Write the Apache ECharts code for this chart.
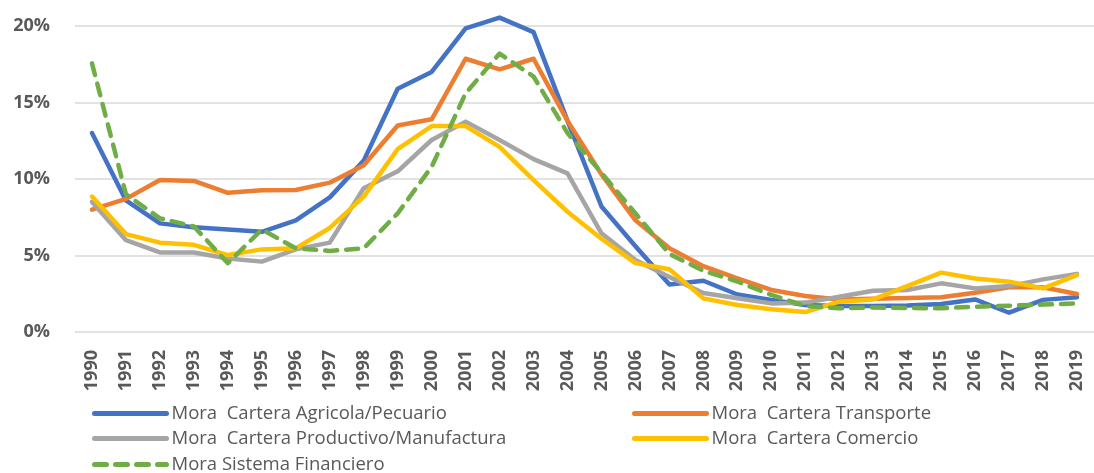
<!DOCTYPE html>
<html>
<head>
<meta charset="utf-8">
<script src="https://cdn.jsdelivr.net/npm/echarts@6/dist/echarts.min.js"></script>
<style>
  html, body { margin: 0; padding: 0; background: #fff; }
  #chart { width: 1094px; height: 473px; }
</style>
</head>
<body>
<div id="chart"></div>
<script>
var years = ['1990','1991','1992','1993','1994','1995','1996','1997','1998','1999',
             '2000','2001','2002','2003','2004','2005','2006','2007','2008','2009',
             '2010','2011','2012','2013','2014','2015','2016','2017','2018','2019'];

// Mora (%) por sector
var agricola = [13.0, 8.6, 7.1, 6.85, 6.7, 6.55, 7.3, 8.8, 11.2, 15.9,
                17.0, 19.85, 20.55, 19.6, 13.8, 8.2, 5.6, 3.1, 3.35, 2.45,
                2.1, 1.76, 1.7, 1.7, 1.74, 1.83, 2.13, 1.26, 2.1, 2.27];
var transporte = [8.0, 8.7, 9.93, 9.87, 9.1, 9.26, 9.28, 9.76, 10.9, 13.5,
                  13.9, 17.86, 17.17, 17.86, 13.8, 10.3, 7.3, 5.47, 4.3, 3.5,
                  2.75, 2.35, 2.13, 2.18, 2.22, 2.27, 2.57, 2.92, 2.92, 2.48];
var productivo = [8.5, 6.0, 5.2, 5.2, 4.8, 4.6, 5.4, 5.84, 9.4, 10.5,
                  12.55, 13.75, 12.55, 11.3, 10.37, 6.45, 4.7, 3.6, 2.55, 2.2,
                  1.87, 1.92, 2.3, 2.7, 2.75, 3.18, 2.85, 3.0, 3.44, 3.8];
var comercio = [8.85, 6.4, 5.84, 5.7, 5.03, 5.4, 5.47, 6.8, 8.85, 11.95,
                13.46, 13.46, 12.1, 9.93, 7.86, 6.1, 4.5, 4.1, 2.2, 1.76,
                1.48, 1.3, 1.98, 2.13, 3.0, 3.88, 3.5, 3.29, 2.85, 3.72];
var sistema = [17.56, 9.0, 7.43, 6.9, 4.5, 6.7, 5.47, 5.3, 5.47, 7.75,
               10.8, 15.6, 18.2, 16.7, 13.0, 10.4, 7.75, 5.1, 4.0, 3.3,
               2.42, 1.7, 1.55, 1.6, 1.57, 1.55, 1.65, 1.72, 1.79, 1.87];

var yTicks = [0, 5, 10, 15, 20];

var chart = echarts.init(document.getElementById('chart'));

function line(name, data, color, dashed) {
    return {
        name: name,
        type: 'line',
        data: data,
        symbol: 'none',
        clip: false,
        lineStyle: {
            color: color,
            width: 4.5,
            type: dashed ? [12, 9] : 'solid',
            cap: 'round',
            join: 'round'
        },
        itemStyle: { color: color }
    };
}

// one legend per entry, placed like the Excel legend (2 columns, 3 rows)
function legendAt(name, left, top) {
    return {
        left: left,
        top: top,
        padding: 0,
        itemWidth: 72,
        itemHeight: 14,
        itemStyle: { opacity: 0 },
        lineStyle: { width: 5 },
        textStyle: { fontFamily: 'Open Sans', fontSize: 18.5, color: '#595959' },
        data: [name]
    };
}

var option = {
    animation: false,
    grid: { left: 75, right: 0, top: 26, bottom: 141 },
    legend: [
        legendAt('Mora  Cartera Agricola/Pecuario', 92, 404),
        legendAt('Mora  Cartera Transporte', 632, 404),
        legendAt('Mora  Cartera Productivo/Manufactura', 92, 429),
        legendAt('Mora  Cartera Comercio', 632, 429),
        legendAt('Mora Sistema Financiero', 92, 455)
    ],
    xAxis: {
        type: 'category',
        data: years,
        boundaryGap: true,
        axisLine: { show: false },
        axisTick: { show: false },
        axisLabel: {
            rotate: 90,
            interval: 0,
            margin: 18,
            fontFamily: 'Open Sans',
            fontWeight: 'bold',
            fontSize: 18,
            color: '#595959'
        }
    },
    yAxis: {
        type: 'value',
        min: yTicks[0],
        max: yTicks[yTicks.length - 1],
        interval: 5,
        axisLine: { show: false },
        axisTick: { show: false },
        splitLine: { lineStyle: { color: '#d9d9d9', width: 1.5 } },
        axisLabel: {
            formatter: '{value}%',
            margin: 25,
            fontFamily: 'Open Sans',
            fontWeight: 'bold',
            fontSize: 18,
            color: '#595959'
        }
    },
    series: [
        line('Mora  Cartera Agricola/Pecuario', agricola, '#4472c4'),
        line('Mora  Cartera Transporte', transporte, '#ed7d31'),
        line('Mora  Cartera Productivo/Manufactura', productivo, '#a5a5a5'),
        line('Mora  Cartera Comercio', comercio, '#ffc000'),
        line('Mora Sistema Financiero', sistema, '#70ad47', true)
    ]
};

chart.setOption(option);
</script>
</body>
</html>
